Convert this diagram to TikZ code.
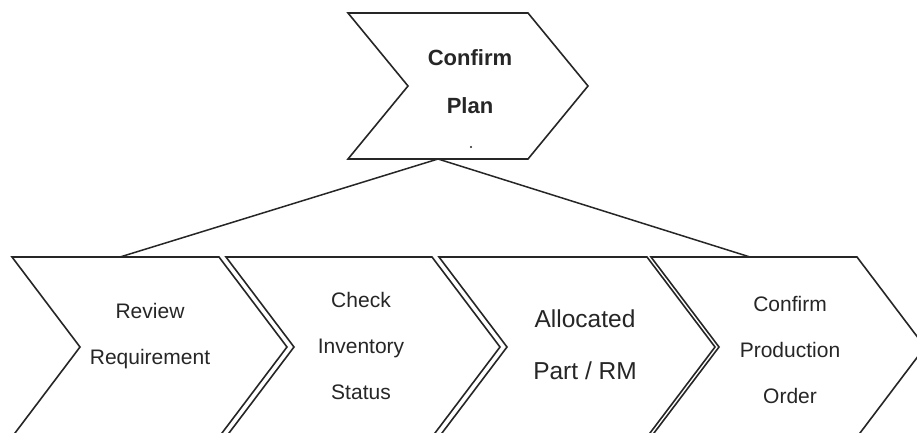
\documentclass[tikz,border=0pt]{standalone}
\usepackage{fontspec}
\setmainfont{Liberation Sans}
\begin{document}
\begin{tikzpicture}[x=1pt,y=-1pt,
  chev/.style={draw=black!85,line width=1.6pt,line join=miter,fill=white},
  conn/.style={draw=black!85,line width=1.5pt},
  lbl/.style={align=center,text=black!85,inner sep=0pt},
  small/.style={lbl,font=\fontsize{21}{46}\selectfont},
  big/.style={lbl,font=\fontsize{24.5}{52}\selectfont},
  topl/.style={lbl,font=\bfseries\fontsize{22}{48}\selectfont}]
\useasboundingbox (0,0) rectangle (917,433);
\clip (0,0) rectangle (917,433);
% chevron: L,R top x; d depth; T top y; C centre y
\newcommand{\chevron}[5]{%
  \draw[chev] (#1,#4) -- (#2,#4) -- ({#2+#3},#5) -- (#2,{2*#5-#4}) -- (#1,{2*#5-#4}) -- ({#1+#3},#5) -- cycle;}
% top chevron
\chevron{348}{528}{60}{13}{86}
\node[topl] (plan) at (470,82) {Confirm\\Plan};
\fill[black!85] (471,147) circle (1.1pt);
\coordinate (apex) at (438,159);
% bottom chevrons
\chevron{12}{219}{68}{257}{347}
\chevron{226}{432}{68}{257}{347}
\chevron{439}{647}{68}{257}{347}
\chevron{651}{857}{68}{257}{347}
\node[small] (rev) at (150,336) {Review\\Requirement};
\node[small] (chk) at (361,346) {Check\\Inventory\\Status};
\node[big] (alloc) at (585,345) {Allocated\\Part / RM};
\node[small] (cpo) at (790,350) {Confirm\\Production\\Order};
\coordinate (c1top) at (120,257);
\coordinate (c4top) at (750,257);
\draw[conn] (apex) -- (c1top);
\draw[conn] (apex) -- (c4top);
\end{tikzpicture}
\end{document}
